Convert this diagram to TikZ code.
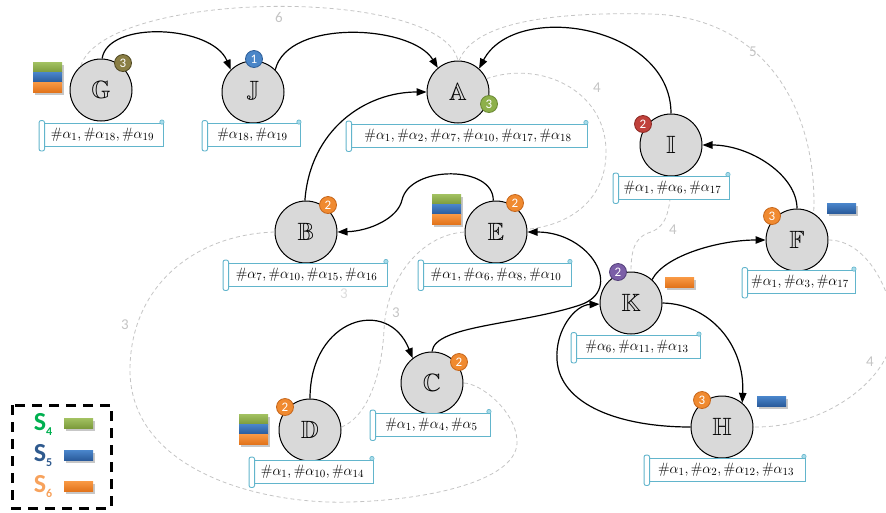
\documentclass[tikz,border=0pt]{standalone}
\usepackage{fontspec}
\usepackage{amssymb}
\newfontfamily\calib{Carlito}
\usetikzlibrary{arrows.meta}
\definecolor{nodegray}{HTML}{D9D9D9}
\definecolor{tagblue}{HTML}{62B5CC}
\definecolor{tagfill}{HTML}{A9DCEA}
\definecolor{dashgray}{HTML}{C4C4C4}
\definecolor{gtop}{HTML}{A3C262}
\definecolor{gbot}{HTML}{7C9B3C}
\definecolor{btop}{HTML}{4A86CC}
\definecolor{bbot}{HTML}{2B5C9C}
\definecolor{otop}{HTML}{F99A45}
\definecolor{obot}{HTML}{E2741C}
\definecolor{bgOl}{HTML}{8A7E44}\definecolor{bdOl}{HTML}{4F4822}
\definecolor{bgBl}{HTML}{4A86C8}\definecolor{bdBl}{HTML}{2E5E98}
\definecolor{bgGr}{HTML}{8DB04A}\definecolor{bdGr}{HTML}{6A8833}
\definecolor{bgRe}{HTML}{C0413B}\definecolor{bdRe}{HTML}{8C2924}
\definecolor{bgOr}{HTML}{F08A30}\definecolor{bdOr}{HTML}{C6661B}
\definecolor{bgPu}{HTML}{7B5EA7}\definecolor{bdPu}{HTML}{54407A}
\definecolor{sfour}{HTML}{00B050}
\definecolor{sfive}{HTML}{2F5A8E}
\definecolor{ssix}{HTML}{F7A25C}
\newcommand\colbar[4]{% x y topcolor bottomcolor
  \shade[top color=#3, bottom color=#4] (#1,#2) rectangle +(29,10);}
\newcommand\barshadow[3]{% x y height
  \fill[black, opacity=0.22] (#1+2,#2+2.5) rectangle +(29,#3);}
\newcommand\rolls[1]{%
  \draw[tagblue, fill=white, line width=0.9pt, rounded corners=2pt]
    ([xshift=-2.5pt,yshift=2.5pt]#1.north west) rectangle ([xshift=3pt,yshift=-4pt]#1.south west);
  \draw[tagblue, fill=tagfill, line width=0.6pt] ([xshift=-1.5pt,yshift=1pt]#1.north east) circle (2.2pt);}
\begin{document}
\begin{tikzpicture}[x=1pt,y=-1pt,
  st/.style={circle, draw=black, fill=nodegray, line width=1pt, minimum size=62pt, inner sep=0pt,
    font=\fontsize{25}{28}\selectfont},
  badge/.style={circle, minimum size=17pt, inner sep=0pt, text=white, line width=0.8pt,
    font=\calib\fontsize{13}{13}\selectfont},
  conn/.style={line width=1.2pt, -{Triangle[length=10pt,width=7.5pt]}},
  link/.style={dashgray, line width=0.8pt, dash pattern=on 4pt off 3pt},
  wlabel/.style={text=dashgray, font=\calib\fontsize{15}{15}\selectfont, inner sep=0pt},
  tag/.style={draw=tagblue, fill=white, line width=0.9pt, minimum height=23pt, inner sep=0pt,
    font=\fontsize{15}{17}\selectfont},
  legtext/.style={font=\calib\bfseries\fontsize{26}{26}\selectfont, inner sep=0pt}
]
\useasboundingbox (0,0) rectangle (886,512);
\clip (0,0) rectangle (886,512);

% ---------- state nodes ----------
\node[st] (G) at (101,90) {$\mathbb{G}$};
\node[st] (J) at (253,92) {$\mathbb{J}$};
\node[st] (A) at (458,92) {$\mathbb{A}$};
\node[st] (I) at (671,145) {$\mathbb{I}$};
\node[st] (B) at (306,232) {$\mathbb{B}$};
\node[st] (E) at (496,232) {$\mathbb{E}$};
\node[st] (F) at (797,240) {$\mathbb{F}$};
\node[st] (K) at (631,303) {$\mathbb{K}$};
\node[st] (C) at (432,383) {$\mathbb{C}$};
\node[st] (D) at (310,430) {$\mathbb{D}$};
\node[st] (H) at (722,427) {$\mathbb{H}$};

% ---------- dashed gray links ----------
\draw[link] (G.130) .. controls (105,-10) and (440,-15) .. (A.90);
\draw[link] (A.88) .. controls (475,20) and (560,12) .. (650,14)
            .. controls (765,16) and (818,110) .. (F.58);
\draw[link] (A.25) .. controls (540,60) and (605,90) .. (606,150)
            .. controls (607,200) and (570,225) .. (E.5);
\draw[link] (I.south) .. controls (671,215) and (665,228) .. (648,233)
            .. controls (635,238) and (631,250) .. (K.north);
\draw[link] (F.0) .. controls (870,240) and (895,300) .. (893,330)
            .. controls (893,375) and (830,428) .. (H.0);
\draw[link] (B.180) .. controls (190,235) and (130,290) .. (130,370)
            .. controls (130,470) and (260,505) .. (350,502)
            .. controls (430,500) and (520,480) .. (517,440)
            .. controls (515,410) and (480,383) .. (C.0);
\draw[link] (D.5) .. controls (370,415) and (382,370) .. (384,330)
            .. controls (386,280) and (420,235) .. (E.180);

\node[wlabel] (w6) at (279,17) {6};
\node[wlabel] (w5) at (753,52) {5};
\node[wlabel] (w4a) at (597,88) {4};
\node[wlabel] (w4b) at (673,230) {4};
\node[wlabel] (w4c) at (870,362) {4};
\node[wlabel] (w3a) at (125,325) {3};
\node[wlabel] (w3b) at (396,313) {3};

% ---------- transitions ----------
\draw[conn] (G.88) .. controls (108,20) and (212,25) .. (J.135);
\draw[conn] (J.45) .. controls (288,18) and (412,25) .. (A.130);
\draw[conn] (B.92) .. controls (310,130) and (365,92) .. (A.180);
\draw[conn] (I.90) .. controls (671,25) and (515,0) .. (A.48);
\draw[conn] (E.95) .. controls (494,165) and (410,165) .. (402,200)
            .. controls (398,218) and (370,231) .. (B.0);
\draw[conn] (C.90) .. controls (435,325) and (520,325) .. (580,305)
            .. controls (625,290) and (590,232) .. (E.0);
\draw[conn] (D.90) .. controls (310,318) and (388,296) .. (C.128);
\draw[conn] (F.90) .. controls (797,175) and (750,145) .. (I.0);
\draw[conn] (K.48) .. controls (665,255) and (720,240) .. (F.180);
\draw[conn] (K.0) .. controls (710,304) and (745,345) .. (H.50);
\draw[conn] (H.180) .. controls (620,427) and (560,405) .. (557,360)
            .. controls (555,330) and (575,305) .. (K.182);

% ---------- label tags ----------
\node[tag, minimum width=121pt] (Gl) at (102.5,135) {$\#\alpha_1,\#\alpha_{18},\#\alpha_{19}$};
\node[tag, minimum width=95pt]  (Jl) at (252.5,135) {$\#\alpha_{18},\#\alpha_{19}$};
\node[tag, minimum width=238pt] (Al) at (468,135.5) {$\#\alpha_1,\#\alpha_2,\#\alpha_7,\#\alpha_{10},\#\alpha_{17},\#\alpha_{18}$};
\node[tag, minimum width=113pt] (Il) at (672.5,187.5) {$\#\alpha_1,\#\alpha_6,\#\alpha_{17}$};
\node[tag, minimum width=161pt] (Bl) at (306.5,274.5) {$\#\alpha_7,\#\alpha_{10},\#\alpha_{15},\#\alpha_{16}$};
\node[tag, minimum width=150pt] (El) at (496,274.5) {$\#\alpha_1,\#\alpha_6,\#\alpha_8,\#\alpha_{10}$};
\node[tag, minimum width=110pt] (Fl) at (800,282) {$\#\alpha_1,\#\alpha_3,\#\alpha_{17}$};
\node[tag, minimum width=126pt] (Kl) at (637,347) {$\#\alpha_6,\#\alpha_{11},\#\alpha_{13}$};
\node[tag, minimum width=117pt] (Cl) at (431.5,424.5) {$\#\alpha_1,\#\alpha_4,\#\alpha_5$};
\node[tag, minimum width=121pt] (Dl) at (312.5,471.5) {$\#\alpha_1,\#\alpha_{10},\#\alpha_{14}$};
\node[tag, minimum width=158pt] (Hl) at (726,469.5) {$\#\alpha_1,\#\alpha_2,\#\alpha_{12},\#\alpha_{13}$};
\foreach \t in {Gl,Jl,Al,Il,Bl,El,Fl,Kl,Cl,Dl,Hl} {\rolls{\t}}
\node[wlabel, opacity=0.6] (w3c) at (344,294) {3};

% ---------- badges ----------
\node[badge, fill=bgOl, draw=bdOl] (bG) at (123,63) {3};
\node[badge, fill=bgBl, draw=bdBl] (bJ) at (254,59) {1};
\node[badge, fill=bgGr, draw=bdGr] (bA) at (489,104) {3};
\node[badge, fill=bgRe, draw=bdRe] (bI) at (643,124) {2};
\node[badge, fill=bgOr, draw=bdOr] (bB) at (328,205) {2};
\node[badge, fill=bgOr, draw=bdOr] (bE) at (515,203) {2};
\node[badge, fill=bgOr, draw=bdOr] (bF) at (772,216) {3};
\node[badge, fill=bgPu, draw=bdPu] (bK) at (618,272) {2};
\node[badge, fill=bgOr, draw=bdOr] (bC) at (459,362) {2};
\node[badge, fill=bgOr, draw=bdOr] (bD) at (285,407) {2};
\node[badge, fill=bgOr, draw=bdOr] (bH) at (702,400) {3};

% ---------- colour bars ----------
\barshadow{33}{62}{30}
\colbar{33}{62}{gtop}{gbot}\colbar{33}{72}{btop}{bbot}\colbar{33}{82}{otop}{obot}
\barshadow{432}{194}{30}
\colbar{432}{194}{gtop}{gbot}\colbar{432}{204}{btop}{bbot}\colbar{432}{214}{otop}{obot}
\barshadow{239}{414}{30}
\colbar{239}{414}{gtop}{gbot}\colbar{239}{424}{btop}{bbot}\colbar{239}{434}{otop}{obot}
\barshadow{827}{203}{10}\colbar{827}{203}{btop}{bbot}
\barshadow{665}{277}{10}\colbar{665}{277}{otop}{obot}
\barshadow{757}{396}{10}\colbar{757}{396}{btop}{bbot}

% ---------- legend ----------
\draw[line width=3pt, dash pattern=on 10pt off 7pt] (12,405) rectangle (111,508);
\node[legtext, text=sfour] (s4) at (43,424) {S\raisebox{-5pt}{\fontsize{12}{12}\selectfont 4}};
\node[legtext, text=sfive] (s5) at (43,456) {S\raisebox{-5pt}{\fontsize{12}{12}\selectfont 5}};
\node[legtext, text=ssix]  (s6) at (43,487) {S\raisebox{-5pt}{\fontsize{12}{12}\selectfont 6}};
\barshadow{64}{418}{10}\colbar{64}{418}{gtop}{gbot}
\barshadow{64}{450}{10}\colbar{64}{450}{btop}{bbot}
\barshadow{64}{481}{10}\colbar{64}{481}{otop}{obot}
\end{tikzpicture}
\end{document}
